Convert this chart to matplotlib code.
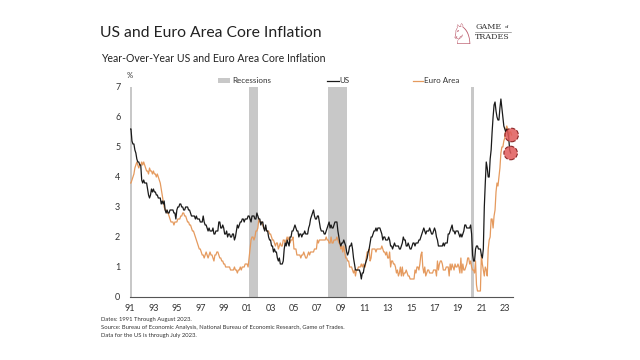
import numpy as np
import pandas as pd
import matplotlib
matplotlib.use("Agg")
import matplotlib.pyplot as plt
from matplotlib.lines import Line2D
from matplotlib.patches import Rectangle

# ---------------- data (monthly YoY %) ----------------
us_core = [
    5.6,5.6,5.2,5.1,5.1,4.9,4.8,4.6,4.5,4.5,4.4,4.4,   # 1991
    3.9,3.8,3.9,3.8,3.8,3.8,3.6,3.4,3.3,3.4,3.6,3.5,   # 1992
    3.6,3.5,3.5,3.4,3.4,3.3,3.3,3.3,3.1,3.2,3.1,3.2,   # 1993
    2.9,2.8,2.9,2.8,2.8,2.9,2.9,2.9,2.9,2.8,2.8,2.6,   # 1994
    2.9,3.0,3.0,3.1,3.1,3.0,3.0,2.9,2.9,3.0,3.0,3.0,   # 1995
    2.9,2.9,2.8,2.7,2.7,2.7,2.7,2.6,2.7,2.6,2.6,2.6,   # 1996
    2.5,2.5,2.5,2.7,2.5,2.4,2.4,2.3,2.2,2.3,2.2,2.2,   # 1997
    2.2,2.3,2.1,2.1,2.2,2.2,2.2,2.5,2.5,2.3,2.3,2.4,   # 1998
    2.3,2.1,2.1,2.2,2.0,2.1,2.1,2.0,2.0,2.1,2.1,1.9,   # 1999
    2.0,2.2,2.4,2.3,2.4,2.5,2.5,2.6,2.6,2.5,2.6,2.6,   # 2000
    2.6,2.7,2.7,2.6,2.5,2.7,2.7,2.7,2.6,2.6,2.8,2.7,   # 2001
    2.6,2.6,2.4,2.5,2.5,2.3,2.2,2.4,2.2,2.2,2.0,1.9,   # 2002
    1.9,1.7,1.7,1.5,1.6,1.5,1.5,1.3,1.2,1.3,1.1,1.1,   # 2003
    1.1,1.2,1.6,1.8,1.7,1.9,1.8,1.7,2.0,2.0,2.2,2.2,   # 2004
    2.3,2.4,2.3,2.2,2.2,2.0,2.1,2.1,2.0,2.1,2.1,2.2,   # 2005
    2.1,2.1,2.1,2.3,2.4,2.6,2.7,2.8,2.9,2.7,2.6,2.6,   # 2006
    2.7,2.7,2.5,2.3,2.2,2.2,2.2,2.1,2.1,2.2,2.3,2.4,   # 2007
    2.5,2.3,2.4,2.3,2.3,2.4,2.5,2.5,2.5,2.2,2.0,1.8,   # 2008
    1.7,1.8,1.8,1.9,1.8,1.7,1.5,1.4,1.5,1.7,1.7,1.8,   # 2009
    1.6,1.3,1.1,0.9,0.9,0.9,0.9,0.9,0.8,0.6,0.8,0.8,   # 2010
    1.0,1.1,1.2,1.3,1.5,1.6,1.8,2.0,2.0,2.1,2.2,2.2,   # 2011
    2.3,2.2,2.3,2.3,2.3,2.2,2.1,1.9,2.0,2.0,1.9,1.9,   # 2012
    1.9,2.0,1.9,1.7,1.7,1.6,1.7,1.8,1.7,1.7,1.7,1.7,   # 2013
    1.6,1.6,1.7,1.8,2.0,1.9,1.9,1.7,1.7,1.8,1.7,1.6,   # 2014
    1.6,1.7,1.8,1.8,1.7,1.8,1.8,1.8,1.9,1.9,2.0,2.1,   # 2015
    2.2,2.3,2.2,2.1,2.2,2.2,2.2,2.3,2.2,2.1,2.1,2.2,   # 2016
    2.3,2.2,2.0,1.9,1.7,1.7,1.7,1.7,1.7,1.8,1.7,1.8,   # 2017
    1.8,1.8,2.1,2.1,2.2,2.3,2.4,2.2,2.2,2.1,2.2,2.2,   # 2018
    2.2,2.1,2.0,2.1,2.0,2.1,2.2,2.4,2.4,2.3,2.3,2.3,   # 2019
    2.3,2.4,2.1,1.4,1.2,1.2,1.6,1.7,1.7,1.6,1.6,1.6,   # 2020
    1.4,1.3,1.6,3.0,3.8,4.5,4.3,4.0,4.0,4.6,4.9,5.5,   # 2021
    6.0,6.4,6.5,6.2,6.0,5.9,5.9,6.3,6.6,6.3,6.0,5.7,   # 2022
    5.6,5.5,5.6,5.5,5.3,4.9,4.8,                       # 2023 (to Jul)
]

euro_core = [
    3.8,3.8,3.9,4.0,4.1,4.3,4.4,4.5,4.4,4.3,4.4,4.4,   # 1991
    4.5,4.4,4.5,4.4,4.3,4.2,4.2,4.1,4.3,4.2,4.2,4.1,   # 1992
    4.2,4.1,4.1,4.0,4.1,4.0,3.9,3.8,3.6,3.4,3.2,3.0,   # 1993
    2.9,2.9,2.8,2.8,2.7,2.6,2.5,2.5,2.5,2.4,2.5,2.5,   # 1994
    2.5,2.6,2.6,2.6,2.7,2.7,2.8,2.8,2.7,2.7,2.6,2.5,   # 1995
    2.5,2.4,2.4,2.3,2.2,2.2,2.1,2.0,1.9,1.8,1.7,1.6,   # 1996
    1.6,1.5,1.4,1.4,1.3,1.4,1.5,1.4,1.3,1.4,1.5,1.4,   # 1997
    1.4,1.3,1.2,1.4,1.4,1.5,1.5,1.4,1.3,1.3,1.2,1.2,   # 1998
    1.1,1.1,1.0,1.0,1.0,1.0,1.0,0.9,0.9,0.9,0.9,1.0,   # 1999
    0.9,0.9,0.8,0.9,0.9,1.0,0.9,1.0,1.0,1.0,1.1,1.1,   # 2000
    1.1,1.0,1.3,1.6,1.9,2.0,2.0,1.9,2.0,2.2,2.2,2.3,   # 2001
    2.6,2.5,2.5,2.5,2.4,2.3,2.3,2.3,2.2,2.2,2.2,2.1,   # 2002
    2.1,2.0,1.9,1.9,1.8,1.7,1.8,1.8,1.6,1.7,1.8,1.7,   # 2003
    1.7,1.9,1.9,1.8,1.9,2.0,1.9,2.0,1.8,1.9,1.9,2.0,   # 2004
    1.6,1.6,1.6,1.4,1.4,1.4,1.4,1.3,1.4,1.4,1.5,1.4,   # 2005
    1.3,1.3,1.4,1.5,1.4,1.5,1.5,1.5,1.5,1.6,1.6,1.6,   # 2006
    1.9,1.8,1.9,1.9,1.9,1.9,1.9,1.9,1.9,2.0,1.9,1.9,   # 2007
    1.8,1.8,2.0,1.8,1.8,1.9,1.9,1.9,2.0,1.9,1.8,1.8,   # 2008
    1.6,1.7,1.5,1.7,1.5,1.3,1.3,1.2,1.2,1.0,1.0,1.0,   # 2009
    0.9,0.8,0.9,0.7,0.9,0.9,1.0,1.0,1.0,1.1,1.0,1.1,   # 2010
    1.0,1.0,1.3,1.5,1.5,1.6,1.2,1.3,1.6,1.6,1.6,1.6,   # 2011
    1.5,1.6,1.6,1.6,1.6,1.6,1.7,1.6,1.5,1.5,1.4,1.5,   # 2012
    1.3,1.3,1.5,1.0,1.2,1.2,1.1,1.1,1.0,0.8,0.9,0.7,   # 2013
    0.8,1.0,0.7,1.0,0.7,0.8,0.8,0.9,0.8,0.7,0.7,0.6,   # 2014
    0.6,0.6,0.6,0.6,0.9,0.8,1.0,1.0,0.9,1.1,1.4,1.5,   # 2015
    1.0,0.8,1.0,0.7,0.8,0.9,0.9,0.8,0.8,0.8,0.8,0.9,   # 2016
    0.9,0.9,0.7,1.2,0.9,1.1,1.2,1.2,1.1,0.9,0.9,0.9,   # 2017
    1.0,1.0,1.0,0.7,1.1,0.9,1.1,1.0,0.9,1.1,1.0,1.0,   # 2018
    1.1,1.0,0.8,1.3,0.8,1.1,0.9,0.9,1.0,1.1,1.3,1.3,   # 2019
    1.1,1.2,1.0,0.9,0.9,0.8,1.2,0.4,0.2,0.2,0.2,0.2,   # 2020
    1.4,1.1,0.9,0.7,1.0,0.9,0.7,1.6,1.9,2.0,2.6,2.6,   # 2021
    2.3,2.7,2.9,3.5,3.8,3.7,4.0,4.3,4.8,5.0,5.0,5.2,   # 2022
    5.3,5.6,5.7,5.6,5.3,5.5,5.5,5.4,                   # 2023 (to Aug)
]

recessions = [(1990.5, 1991.17), (2001.17, 2001.92), (2007.92, 2009.5), (2020.08, 2020.33)]
year_ticks = list(range(1991, 2024, 2))
year_labels = [f"{y % 100:02d}" for y in year_ticks]
y_ticks = [0, 1, 2, 3, 4, 5, 6, 7]

us_dates = 1991 + np.arange(len(us_core)) / 12.0
eu_dates = 1991 + np.arange(len(euro_core)) / 12.0

# ---------------- style ----------------
FONT = "Lato"
plt.rcParams['font.family'] = [FONT, 'DejaVu Sans']
TXT = "#333333"
US_COL = "#1a1a1a"
EU_COL = "#E59A5E"
REC_COL = "#c8c8c8"

fig = plt.figure(figsize=(6.4, 3.6), dpi=100)
fig.patch.set_facecolor("white")
W, H = 640.0, 360.0

ax = fig.add_axes([130 / W, 1 - 297 / H, 383 / W, 210 / H])

for s, e in recessions:
    ax.axvspan(s, e, color=REC_COL, lw=0, zorder=1)

ax.plot(eu_dates, euro_core, color=EU_COL, lw=0.9, zorder=3)
ax.plot(us_dates, us_core, color=US_COL, lw=0.9, zorder=4)

# highlight circles at latest readings
ax.scatter([eu_dates[-1], us_dates[-1]], [euro_core[-1], us_core[-1]],
           s=95, facecolor="#E05A5A", alpha=0.85, edgecolor="#7a1010",
           linewidths=0.8, linestyles="--", zorder=5, clip_on=False)

ax.set_xlim(1991.0, 2023.7)
ax.set_ylim(0, 7)
ax.set_xticks(year_ticks)
ax.set_xticklabels(year_labels)
ax.set_yticks(y_ticks)
ax.tick_params(axis="both", length=0, labelsize=6.5, colors=TXT)
ax.tick_params(axis="x", pad=5)
ax.tick_params(axis="y", pad=7)
for sp in ["top", "right", "left"]:
    ax.spines[sp].set_visible(False)
ax.spines["bottom"].set_color("#555555")
ax.spines["bottom"].set_linewidth(0.8)

def fx(px):
    return px / W

def fy(py):
    return 1 - py / H

# titles
fig.text(fx(100), fy(33), "US and Euro Area Core Inflation", fontsize=11.3,
         color="#222222", va="center", ha="left")
fig.text(fx(101), fy(58), "Year-Over-Year US and Euro Area Core Inflation", fontsize=7.6,
         color="#222222", va="center", ha="left")
fig.text(fx(130), fy(76), "%", fontsize=5.5, color=TXT, va="center", ha="center")

# legend
fig.add_artist(Rectangle((fx(218), fy(82.5)), fx(12), 5 / H, transform=fig.transFigure,
                         facecolor=REC_COL, edgecolor="none"))
fig.text(fx(232), fy(80.5), "Recessions", fontsize=5.8, color=TXT, va="center", ha="left")
fig.add_artist(Line2D([fx(327), fx(339)], [fy(80.5), fy(80.5)], transform=fig.transFigure,
                      color=US_COL, lw=0.9))
fig.text(fx(339.5), fy(80.5), "US", fontsize=5.8, color=TXT, va="center", ha="left")
fig.add_artist(Line2D([fx(413), fx(423)], [fy(80.5), fy(80.5)], transform=fig.transFigure,
                      color=EU_COL, lw=0.9))
fig.text(fx(424), fy(80.5), "Euro Area", fontsize=5.8, color=TXT, va="center", ha="left")

# footnotes
notes = ["Dates: 1991 Through August 2023.",
         "Source: Bureau of Economic Analysis, National Bureau of Economic Research, Game of Trades.",
         "Data for the US is through July 2023."]
for i, n in enumerate(notes):
    fig.text(fx(101), fy(319 + 8 * i), n, fontsize=4.2, color=TXT, va="center", ha="left")

# logo
fig.text(fx(462), fy(36), "\u2658", fontsize=20, color="#b85465", va="center", ha="center",
         family="DejaVu Sans")
fig.text(fx(475), fy(27), "GAME", fontsize=5.8, color="#333333", va="center", ha="left",
         family="DejaVu Serif")
fig.text(fx(505), fy(27.5), "of", fontsize=3, color="#333333", va="center", ha="left",
         family="DejaVu Serif")
fig.add_artist(Line2D([fx(475), fx(511)], [fy(31.5), fy(31.5)], transform=fig.transFigure,
                      color="#666666", lw=0.4))
fig.text(fx(475), fy(37), "TRADES", fontsize=5.8, color="#333333", va="center", ha="left",
         family="DejaVu Serif")

fig.savefig("out.png", dpi=100, facecolor="white")
